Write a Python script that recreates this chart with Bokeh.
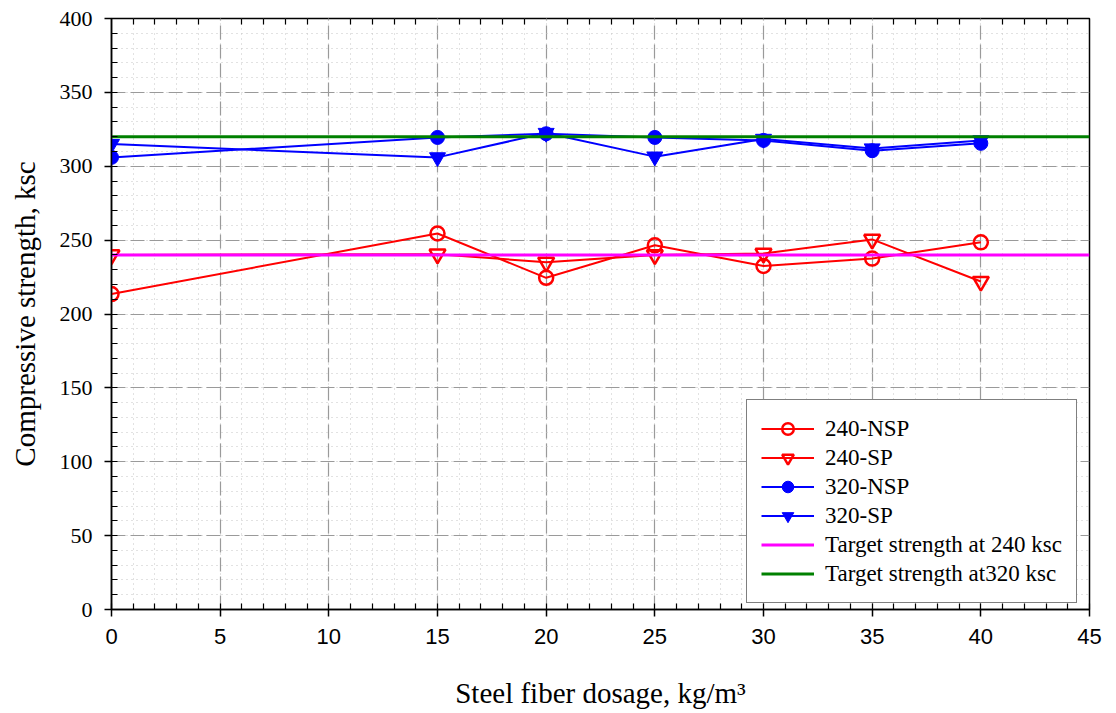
from bokeh.plotting import figure
from bokeh.models import SingleIntervalTicker, FixedTicker, LinearAxis, Range1d, Legend
from bokeh.embed import file_html
from bokeh.resources import INLINE

dosage = [0, 15, 20, 25, 30, 35, 40]
nsp_240 = [213.5, 254.5, 224.5, 246.5, 232.5, 237.5, 248.5]
sp_240 = [240, 240.5, 235, 240, 241, 250.5, 222]
nsp_320 = [306, 319.5, 322, 319.5, 317.5, 310.5, 315.5]
sp_320 = [315, 306, 322.5, 306.5, 318.5, 312, 317.5]
target_x = [0, 45]
target_240 = [240, 240]
target_320 = [320, 320]
top_minor = [i for i in range(0, 46) if i % 5 != 0]

SERIF = "Liberation Serif"
SANS = "Liberation Sans"

p = figure(width=1116, height=713, x_range=Range1d(0, 45), y_range=Range1d(0, 400),
           output_backend="svg", toolbar_location=None,
           min_border_left=111, min_border_right=27, min_border_top=18, min_border_bottom=104)
p.outline_line_color = "black"
p.outline_line_width = 1.5
p.background_fill_color = "white"
p.border_fill_color = "white"

p.xaxis.ticker = SingleIntervalTicker(interval=5, num_minor_ticks=5)
p.yaxis.ticker = SingleIntervalTicker(interval=50, num_minor_ticks=5)

for ax in (p.xaxis[0], p.yaxis[0]):
    ax.axis_line_color = "black"
    ax.axis_line_width = 1.5
    ax.major_tick_in = 0
    ax.major_tick_out = 7
    ax.minor_tick_in = 6
    ax.minor_tick_out = 0
    ax.major_tick_line_width = 1.5
    ax.minor_tick_line_width = 1.2
    ax.major_label_text_color = "black"
    ax.axis_label_text_color = "black"
    ax.axis_label_text_font = SERIF
    ax.axis_label_text_font_style = "normal"
    ax.axis_label_text_font_size = "29px"

p.xaxis.major_label_text_font = SANS
p.xaxis.major_label_text_font_size = "22px"
p.xaxis.major_label_standoff = 12
p.xaxis.axis_label = "Steel fiber dosage, kg/m\u00b3"
p.xaxis.axis_label_standoff = 30

p.yaxis.major_label_text_font = SERIF
p.yaxis.major_label_text_font_size = "22px"
p.yaxis.major_label_standoff = 12
p.yaxis.axis_label = "Compressive strength, ksc"
p.yaxis.axis_label_standoff = 16

top = LinearAxis(ticker=FixedTicker(ticks=[], minor_ticks=top_minor),
                 axis_line_color=None, major_tick_in=0, major_tick_out=0,
                 minor_tick_in=6, minor_tick_out=0, minor_tick_line_width=1.2,
                 minor_tick_line_color="black")
p.add_layout(top, "above")

for g in (p.xgrid[0], p.ygrid[0]):
    g.grid_line_color = "#9a9a9a"
    g.grid_line_dash = "14 5"
    g.grid_line_width = 1.2
    g.minor_grid_line_color = "#c4c4c4"
    g.minor_grid_line_dash = "1 4"

l1 = p.line(dosage, nsp_240, line_color="#ff0000", line_width=2)
s1 = p.scatter(dosage, nsp_240, marker="circle", size=14, fill_color="white",
               fill_alpha=0, line_color="#ff0000", line_width=2.5)
l2 = p.line(dosage, sp_240, line_color="#ff0000", line_width=2)
s2 = p.scatter(dosage, sp_240, marker="inverted_triangle", size=16, fill_color="white",
               fill_alpha=0, line_color="#ff0000", line_width=2.5)
l3 = p.line(dosage, nsp_320, line_color="#0000ff", line_width=2)
s3 = p.scatter(dosage, nsp_320, marker="circle", size=14, fill_color="#0000ff",
               line_color="#0000ff", line_width=1)
l4 = p.line(dosage, sp_320, line_color="#0000ff", line_width=2)
s4 = p.scatter(dosage, sp_320, marker="inverted_triangle", size=16, fill_color="#0000ff",
               line_color="#0000ff", line_width=1)
l5 = p.line(target_x, target_240, line_color="#ff00ff", line_width=3)
l6 = p.line(target_x, target_320, line_color="#008000", line_width=3)

legend = Legend(items=[
    ("240-NSP", [l1, s1]),
    ("240-SP", [l2, s2]),
    ("320-NSP", [l3, s3]),
    ("320-SP", [l4, s4]),
    ("Target strength at 240 ksc", [l5]),
    ("Target strength at320 ksc", [l6]),
], location=(635, 6))
legend.border_line_color = "black"
legend.border_line_width = 1.5
legend.background_fill_color = "white"
legend.background_fill_alpha = 1
legend.label_text_font = SERIF
legend.label_text_font_size = "23px"
legend.label_text_color = "black"
legend.glyph_width = 53
legend.glyph_height = 29
legend.label_height = 20
legend.label_standoff = 11
legend.spacing = 0
legend.padding = 14
legend.margin = 0
p.add_layout(legend, "center")

open("out.html", "w").write(file_html(p, INLINE))
